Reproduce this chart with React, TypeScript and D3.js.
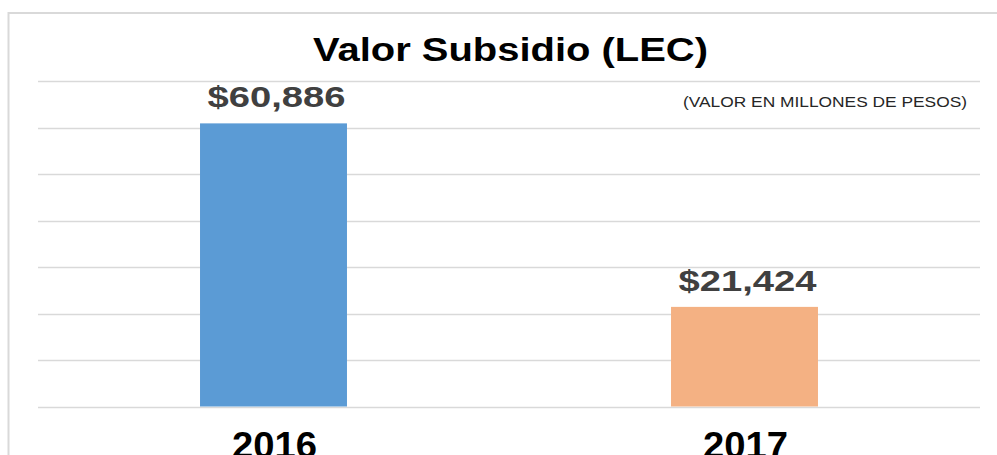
import React from "react";
import * as d3 from "d3";

const categories = ["2016", "2017"];
const values = [60886, 21424];
const valueLabels = ["$60,886", "$21,424"];
const barColors = ["#5B9BD5", "#F4B183"];
const gridTicks = [0, 10000, 20000, 30000, 40000, 50000, 60000, 70000];
const title = "Valor Subsidio (LEC)";
const subtitle = "(VALOR EN MILLONES DE PESOS)";

const W = 997;
const H = 455;
const FONT = "'Liberation Sans', Arial, Helvetica, sans-serif";

export default function App() {
  const x = d3.scaleBand<string>().domain(categories).range([38, 980]).padding(0);
  const y = d3.scaleLinear().domain([0, 70000]).range([406.5, 81]);
  const barW = x.bandwidth() * 0.312;

  return (
    <svg
      width={W}
      height={H}
      style={{ position: "absolute", left: 0, top: 0, background: "#fff" }}
    >
      <rect x={0} y={0} width={W} height={H} fill="#fff" />
      <rect x={8.5} y={13} width={1000} height={500} fill="#fff" stroke="#D9D9D9" strokeWidth={2} />
      {gridTicks.map((t) => (
        <line
          key={t}
          x1={38}
          x2={980}
          y1={Math.round(y(t)) + 0.5}
          y2={Math.round(y(t)) + 0.5}
          stroke="#D9D9D9"
          strokeWidth={1.3}
        />
      ))}
      <text
        x={510.5}
        y={61}
        textAnchor="middle"
        fontFamily={FONT}
        fontWeight="bold"
        fontSize={33.5}
        fill="#000"
        textLength={395}
        lengthAdjust="spacingAndGlyphs"
      >
        {title}
      </text>
      <text
        x={967}
        y={107.3}
        textAnchor="end"
        fontFamily={FONT}
        fontSize={14.5}
        fill="#262626"
        textLength={284}
        lengthAdjust="spacingAndGlyphs"
      >
        {subtitle}
      </text>
      {categories.map((c, i) => {
        const cx = (x(c) as number) + x.bandwidth() / 2;
        return (
          <g key={c}>
            <rect
              x={cx - barW / 2}
              y={y(values[i])}
              width={barW}
              height={y(0) - y(values[i])}
              fill={barColors[i]}
            />
            <text
              x={cx + 3}
              y={y(values[i]) - 16}
              textAnchor="middle"
              fontFamily={FONT}
              fontWeight="bold"
              fontSize={30}
              fill="#404040"
              textLength={138}
              lengthAdjust="spacingAndGlyphs"
            >
              {valueLabels[i]}
            </text>
            <text
              x={cx + 1}
              y={458}
              textAnchor="middle"
              fontFamily={FONT}
              fontWeight="bold"
              fontSize={36}
              fill="#000"
              textLength={85}
              lengthAdjust="spacingAndGlyphs"
            >
              {c}
            </text>
          </g>
        );
      })}
    </svg>
  );
}
